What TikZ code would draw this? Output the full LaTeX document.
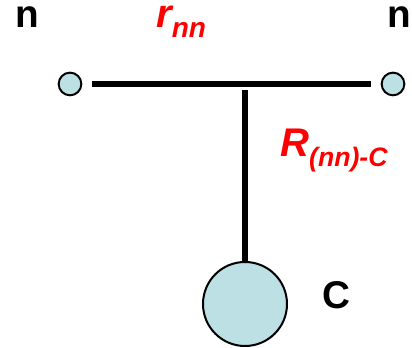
\documentclass[tikz,border=0pt]{standalone}
\usepackage{fontspec}
\setmainfont{Liberation Sans}
\usetikzlibrary{positioning}
\definecolor{atomfill}{RGB}{188,224,227}
\definecolor{labred}{RGB}{255,0,0}

\begin{document}
\begin{tikzpicture}[x=0.75pt,y=-0.75pt,
    atom/.style={circle, draw=black, line width=1.5pt, fill=atomfill, inner sep=0pt},
    bond/.style={line width=4pt},
    lab/.style={anchor=base west, inner sep=0pt, text height=0.6em, text depth=0.2em,
      font=\bfseries\fontsize{29}{29}\selectfont}]
    \useasboundingbox (0,0) rectangle (412,348);
    % atoms
    \node[atom, minimum size=17pt] (nl) at (70,84) {};
    \node[atom, minimum size=17pt] (nr) at (393,84) {};
    \node[atom, minimum size=63pt] (c) at (245,304) {};
    \coordinate (top) at (245,90);
    % bonds
    \draw[bond, shorten <=7.5pt, shorten >=7.5pt] (nl) -- (nr);
    \draw[bond] (top) -- (c);
    % labels
    \node[lab] (lnl) at (15,28) {n};
    \node[lab] (lnr) at (387,28) {n};
    \node[lab, text height=0.75em] (lc) at (322,309) {C};
    \node[lab, labred] (lr) at (156,28) {\itshape\fontsize{30}{30}\selectfont r\raisebox{-6.8pt}{\fontsize{21}{21}\selectfont nn}};
    \node[lab, labred, text height=0.75em] (lR) at (280,157) {\itshape\fontsize{30}{30}\selectfont R\raisebox{-7.5pt}{\fontsize{20}{20}\selectfont (nn)-C}};
  \end{tikzpicture}
\end{document}
